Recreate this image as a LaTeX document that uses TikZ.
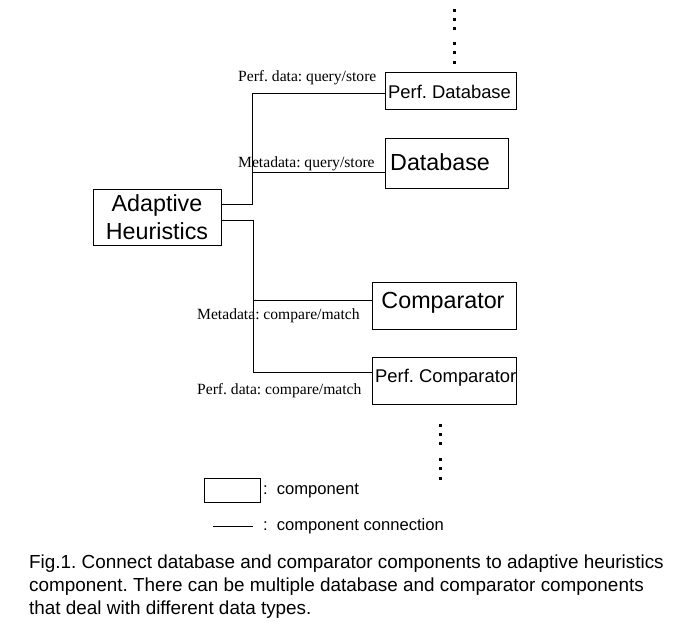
\documentclass[tikz,border=0pt]{standalone}
\usepackage{fontspec}
\setmainfont{Liberation Serif}
\setsansfont{Liberation Sans}
\usetikzlibrary{calc}
\begin{document}
\frenchspacing
\begin{tikzpicture}[x=1pt,y=-1pt,
  box/.style={draw=black,line width=1pt,inner sep=0pt,align=center,font=\sffamily},
  big/.style={font=\sffamily\fontsize{23.3}{28}\selectfont},
  mid/.style={font=\sffamily\fontsize{18.4}{22}\selectfont},
  lab/.style={font=\fontsize{15.6}{18}\selectfont,inner sep=0pt,anchor=west},
  legtext/.style={font=\sffamily\fontsize{16.6}{19}\selectfont,inner sep=0pt,anchor=west},
  captext/.style={font=\sffamily\fontsize{18.9}{23}\selectfont,inner sep=0pt,anchor=base west},
  conn/.style={draw=black,line width=1pt},
  dotsq/.style={fill=black,minimum size=3pt,inner sep=0pt}]
\useasboundingbox (0,0) rectangle (677,627);
\fill[white] (0,0) rectangle (677,627);

% boxes
\node[box,big,minimum width=128,minimum height=56] (ah) at (157,217) {Adaptive\\[0pt]Heuristics};
\node[box,minimum width=131,minimum height=37] (pdb) at (450.5,90.5) {};
\node[mid,inner sep=0pt,anchor=west] (pdbt) at (388,92) {Perf. Database};
\node[box,minimum width=123,minimum height=50] (db) at (446.5,163) {};
\node[big,inner sep=0pt,anchor=west] (dbt) at (390,162) {Database};
\node[box,minimum width=144,minimum height=47] (cmp) at (444,305.5) {};
\node[big,inner sep=0pt] (cmpt) at (443,303) {Comparator};
\node[box,minimum width=144,minimum height=47] (pcmp) at (444,380.5) {};
\node[mid,inner sep=0pt,anchor=west] (pcmpt) at (375,378) {Perf. Comparator};

% connectors
\coordinate (b1top) at (252,93);
\coordinate (b1mid) at (252,172);
\coordinate (b2mid) at (253,300);
\coordinate (b2bot) at (253,372);
\draw[conn] ($(ah.east)+(0,-13)$) -| (b1top) -- (pdb.west |- b1top);
\draw[conn] (b1mid) -- (db.west |- b1mid);
\draw[conn] ($(ah.east)+(0,3)$) -| (b2bot) -- (pcmp.west |- b2bot);
\draw[conn] (b2mid) -- (cmp.west |- b2mid);

% labels
\node[lab] (l1) at (238,77.5) {Perf. data: query/store};
\node[lab] (l2) at (238,163.5) {Metadata: query/store};
\node[lab] (l3) at (197,315.5) {Metadata: compare/match};
\node[lab] (l4) at (197,390.5) {Perf. data: compare/match};

% dots
\foreach \yy [count=\i] in {10,19,28,43,52.5,62}
  \node[dotsq] (ud\i) at (454,\yy) {};
\foreach \yy [count=\i] in {425,434,443,459,468,478}
  \node[dotsq] (ld\i) at (440,\yy) {};

% legend
\node[box,minimum width=56,minimum height=24] (legbox) at (232,490) {};
\node[legtext] (legc) at (263,490.5) {:\hspace{9pt}component};
\coordinate (lgA) at (213,526);
\coordinate (lgB) at (253,526);
\draw[line width=0.8pt] (lgA) -- (lgB);
\node[legtext] (legcc) at (263,526.5) {:\hspace{9pt}component connection};

% caption
\node[captext] (cap1) at (29,568) {Fig.1. Connect database and comparator components to adaptive heuristics};
\node[captext] (cap2) at (29,591) {component. There can be multiple database and comparator components};
\node[captext] (cap3) at (29,614) {that deal with different data types.};
\end{tikzpicture}
\end{document}
